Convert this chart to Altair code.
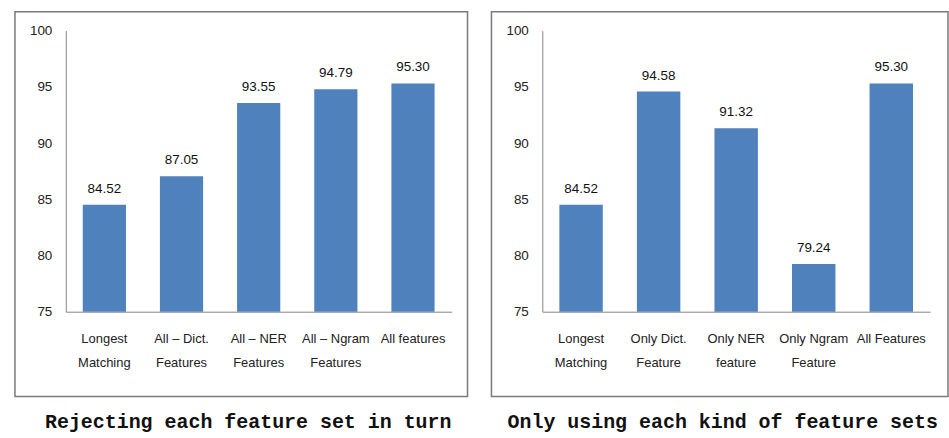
import altair as alt
import pandas as pd

# Accuracy (%) when each feature set is removed in turn
left_labels = ["Longest\nMatching", "All – Dict.\nFeatures", "All – NER\nFeatures",
               "All – Ngram\nFeatures", "All features"]
left_values = [84.52, 87.05, 93.55, 94.79, 95.30]
left_title = "Rejecting each feature set in turn"

# Accuracy (%) when only one kind of feature set is used
right_labels = ["Longest\nMatching", "Only Dict.\nFeature", "Only NER\nfeature",
                "Only Ngram\nFeature", "All Features"]
right_values = [84.52, 94.58, 91.32, 79.24, 95.30]
right_title = "Only using each kind of feature sets"

y_ticks = [75, 80, 85, 90, 95, 100]

BAR = "#4F81BD"
AXIS = "#868686"
FRAME = "#7a7a7a"
FONT = "Liberation Sans"


def panel(labels, values, title, width, frame_right, title_dx):
    df = pd.DataFrame({"setting": labels, "accuracy": values})
    base = alt.Chart(df)
    x = alt.X(
        "setting:N", sort=None, title=None,
        scale=alt.Scale(paddingInner=0.44, paddingOuter=0.22),
        axis=alt.Axis(labelExpr="split(datum.label, '\\n')", labelAngle=0,
                      labelPadding=21, labelLineHeight=24, ticks=False,
                      domainColor=AXIS, labelFont=FONT, labelFontSize=13,
                      labelColor="#222222", labelBaseline="top"),
    )
    y_scale = alt.Scale(domain=[75, 100], nice=False, zero=False)
    bars = base.mark_bar(color=BAR).encode(
        x=x,
        y=alt.Y("accuracy:Q", scale=y_scale, title=None,
                axis=alt.Axis(values=y_ticks, ticks=False, grid=False,
                              domainColor=AXIS, labelPadding=14,
                              labelFont=FONT, labelFontSize=13.5,
                              labelColor="#222222")),
        y2=alt.datum(75),
    )
    text = base.mark_text(dy=-12, baseline="alphabetic", font=FONT,
                          fontSize=13.5, color="#111111").encode(
        x=alt.X("setting:N", sort=None),
        y=alt.Y("accuracy:Q", scale=y_scale),
        text=alt.Text("accuracy:Q", format=".2f"),
    )
    frame = alt.Chart(pd.DataFrame({"k": [0]})).mark_rect(
        fill="white", fillOpacity=0, stroke=FRAME, strokeWidth=1.5
    ).encode(
        x=alt.value(-51), x2=alt.value(frame_right),
        y=alt.value(-19), y2=alt.value(367),
    )
    return alt.layer(frame, bars, text).properties(
        width=width, height=282,
        title=alt.TitleParams(title, orient="bottom", anchor="middle",
                              frame="bounds", font="Liberation Mono",
                              fontSize=20, fontWeight="bold", color="#111111",
                              offset=15, dx=title_dx),
    )


left = panel(left_labels, left_values, left_title, 387, 403, 7)
right = panel(right_labels, right_values, right_title, 389, 407, 3)

chart = alt.hconcat(left, right, spacing=22).properties(
    padding={"left": 14, "top": 10, "right": 0, "bottom": 0},
    background="white",
).configure_view(stroke=None)

chart.save("out.html", embed_options={"renderer": "svg", "actions": False})
